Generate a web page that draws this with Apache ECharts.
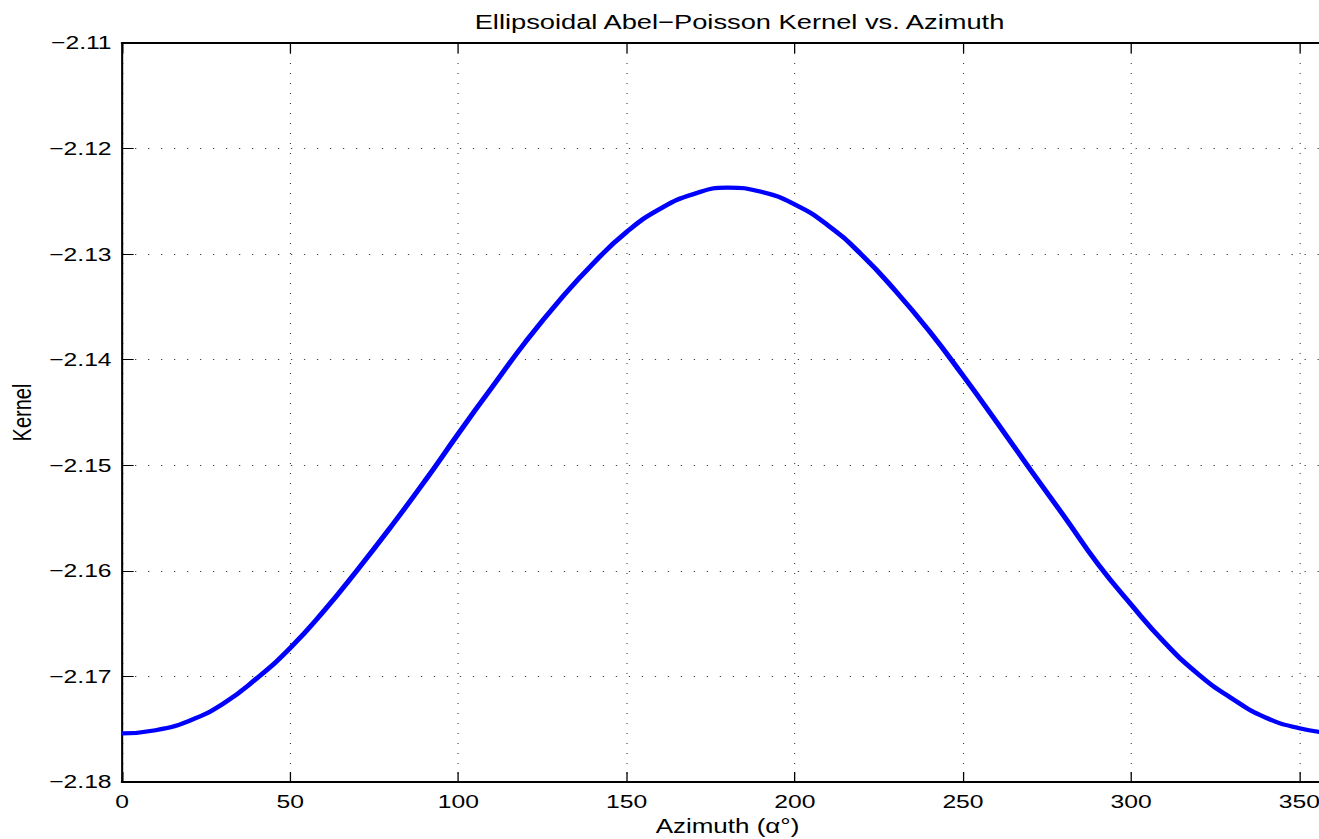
<!DOCTYPE html>
<html>
<head>
<meta charset="utf-8">
<script src="https://cdn.jsdelivr.net/npm/echarts@6/dist/echarts.min.js"></script>
<style>
html,body{margin:0;padding:0;background:#fff;overflow:hidden;width:1319px;height:839px;}
/* the reference figure is stretched horizontally; reproduce that stretch */
#chart{width:1015px;height:839px;transform:scaleX(1.2995);transform-origin:0 0;}
</style>
</head>
<body>
<div id="chart"></div>
<script>
// Data
var azimuth = [0,10,20,30,40,50,60,70,80,90,100,110,120,130,140,150,160,170,180,
               190,200,210,220,230,240,250,260,270,280,290,300,310,320,330,340,350,360];
var kernel = [-2.1754,-2.1751,-2.1742,-2.1726,-2.1702,-2.1673,-2.1638,-2.1599,-2.1558,-2.1515,
              -2.1470,-2.1426,-2.1383,-2.1344,-2.1309,-2.1279,-2.1257,-2.1243,-2.1237,
              -2.1241,-2.1253,-2.1273,-2.1301,-2.1335,-2.1373,-2.1415,-2.1459,-2.1504,
              -2.1548,-2.1593,-2.1632,-2.1668,-2.1698,-2.1721,-2.1739,-2.1749,-2.1754];
var title = 'Ellipsoidal Abel\u2212Poisson Kernel vs. Azimuth';
var xName = 'Azimuth (\u03b1\u00b0)';
var yName = 'Kernel';

var S = 1.2995; // horizontal stretch of the reference
var pts = azimuth.map(function(a, i){ return [a, kernel[i]]; });
var font = 'Liberation Sans, Arial, Helvetica, sans-serif';

var chart = echarts.init(document.getElementById('chart'), null, {renderer:'svg'});
chart.setOption({
  animation:false,
  backgroundColor:'#fff',
  title:{text:title, left:733/S, top:6, textAlign:'center',
         textStyle:{fontFamily:font, fontSize:21, fontWeight:'normal', color:'#000'}},
  grid:{left:122/S, top:43, width:1211/S, height:739, containLabel:false, outerBoundsMode:'none'},
  xAxis:[{
    type:'value', min:0, max:360, interval:50, position:'bottom',
    name:xName, nameLocation:'middle', nameGap:33,
    nameTextStyle:{fontFamily:font, fontSize:20, color:'#000'},
    axisLine:{show:true, onZero:false, lineStyle:{color:'#000', width:2}},
    axisTick:{show:true, inside:true, length:10, lineStyle:{color:'#000', width:1}},
    axisLabel:{fontFamily:font, fontSize:19, color:'#000', margin:10, showMaxLabel:false},
    splitLine:{show:true, lineStyle:{color:'#333', width:0.8, type:[1,9]}}
  },{
    type:'value', min:0, max:360, interval:50, position:'top',
    axisLine:{show:true, onZero:false, lineStyle:{color:'#000', width:2}},
    axisTick:{show:true, inside:true, length:10, lineStyle:{color:'#000', width:1}},
    axisLabel:{show:false}, splitLine:{show:false}
  }],
  yAxis:[{
    type:'value', min:-2.18, max:-2.11, interval:0.01, position:'left',
    name:yName, nameLocation:'middle', nameGap:67, nameRotate:90,
    nameTextStyle:{fontFamily:font, fontSize:20, color:'#000'},
    axisLine:{show:true, onZero:false, lineStyle:{color:'#000', width:1.6}},
    axisTick:{show:true, inside:true, length:9, lineStyle:{color:'#000', width:1}},
    axisLabel:{fontFamily:font, fontSize:19, color:'#000', margin:8,
      formatter:function(v){ return v.toFixed(2).replace('-', '\u2212'); }},
    splitLine:{show:true, lineStyle:{color:'#444', width:1, type:[1,9]}}
  }],
  series:[{
    type:'line', data:pts, xAxisIndex:0, yAxisIndex:0,
    smooth:0.5, showSymbol:false, clip:true,
    lineStyle:{color:'#0000ff', width:4.2}
  }]
});
</script>
</body>
</html>
